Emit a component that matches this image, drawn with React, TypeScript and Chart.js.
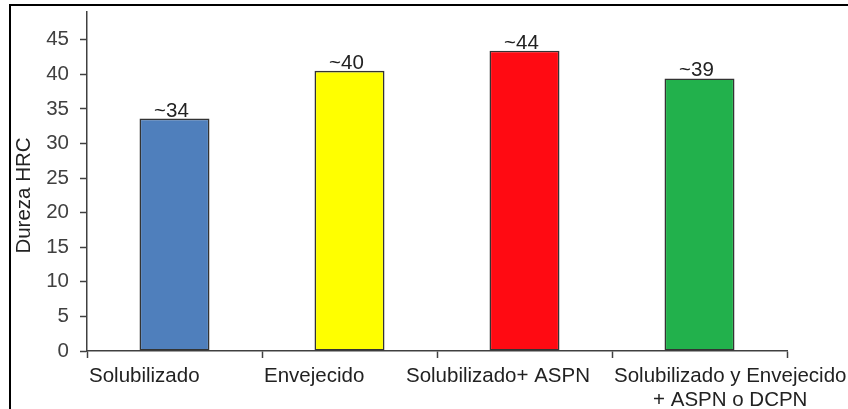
import { useEffect, useRef } from "react";
import { Chart, registerables } from "chart.js";

Chart.register(...registerables);

// Hardness (HRC) after each heat / nitriding treatment
const categories: string[][] = [
  ["Solubilizado"],
  ["Envejecido"],
  ["Solubilizado+ ASPN"],
  ["Solubilizado y Envejecido", "+ ASPN o DCPN"],
];
const hardness = [33.6, 40.5, 43.4, 39.4];
const valueLabels = ["~34", "~40", "~44", "~39"];
const barColors = ["#4F7FBC", "#FFFF00", "#FF0A12", "#22B14C"];
const yTickValues = [0, 5, 10, 15, 20, 25, 30, 35, 40, 45];
const yMax = 49;
const yTitle = "Dureza HRC";

const FONT = '"Liberation Sans", Arial, sans-serif';
const AXIS_COLOR = "#404040";
const TEXT_COLOR = "#222222";
const LABEL_GAP = 24;

const decorations = {
  id: "decorations",
  beforeDraw(chart: any) {
    const { ctx, width, height } = chart;
    ctx.save();
    ctx.fillStyle = "#ffffff";
    ctx.fillRect(0, 0, width, height);
    ctx.restore();
  },
  afterDraw(chart: any) {
    const { ctx, width, height, chartArea } = chart;
    ctx.save();

    // outer frame (left and top edges)
    ctx.strokeStyle = "#000000";
    ctx.lineWidth = 2;
    ctx.beginPath();
    ctx.moveTo(10, height);
    ctx.lineTo(10, 5);
    ctx.lineTo(width, 5);
    ctx.stroke();

    ctx.font = `20.5px ${FONT}`;
    ctx.fillStyle = TEXT_COLOR;
    ctx.textBaseline = "alphabetic";

    // value labels above the bars
    ctx.textAlign = "center";
    const meta = chart.getDatasetMeta(0);
    meta.data.forEach((bar: any, i: number) => {
      ctx.fillText(valueLabels[i], bar.x - 3, bar.y - 2);
    });

    // category labels: start at the category's left edge, pushed left
    // when they would run into the next label
    const xs = chart.scales.x;
    const step = (xs.right - xs.left) / categories.length;
    const widths = categories.map((lines) =>
      Math.max(...lines.map((l) => ctx.measureText(l).width))
    );
    const starts = categories.map((_, i) => xs.getPixelForValue(i) - step / 2 + 2);
    for (let i = starts.length - 2; i >= 0; i--) {
      const limit = starts[i + 1] - LABEL_GAP;
      if (starts[i] + widths[i] > limit) starts[i] = limit - widths[i];
    }
    categories.forEach((lines, i) => {
      lines.forEach((l, j) => {
        ctx.fillText(l, starts[i] + widths[i] / 2, chartArea.bottom + 31 + j * 24);
      });
    });

    // y axis title
    ctx.translate(24, (chartArea.top + chartArea.bottom) / 2 + 14);
    ctx.rotate(-Math.PI / 2);
    ctx.textAlign = "center";
    ctx.textBaseline = "middle";
    ctx.fillText(yTitle, 0, 0);

    ctx.restore();
  },
};

export default function App() {
  const canvasRef = useRef<HTMLCanvasElement | null>(null);

  useEffect(() => {
    document.body.style.margin = "0";
    const canvas = canvasRef.current;
    if (!canvas) return;

    const chart = new Chart(canvas, {
      type: "bar",
      data: {
        labels: categories.map((c) => c.join(" ")),
        datasets: [
          {
            data: hardness,
            backgroundColor: barColors,
            borderColor: "#333333",
            borderWidth: 1.6,
            borderSkipped: false,
            categoryPercentage: 0.4,
            barPercentage: 1,
          },
        ],
      },
      options: {
        responsive: false,
        animation: false,
        devicePixelRatio: 1,
        layout: { padding: { left: 0, top: 12, right: 61, bottom: 0 } },
        plugins: {
          legend: { display: false },
          tooltip: { enabled: false },
          title: { display: false },
        },
        scales: {
          x: {
            type: "category",
            offset: true,
            grid: {
              offset: true,
              drawOnChartArea: false,
              drawTicks: true,
              tickLength: 7,
              tickColor: (ctx: any) =>
                ctx.index === categories.length ? "rgba(0,0,0,0)" : AXIS_COLOR,
              tickWidth: 1.5,
            },
            border: { display: true, color: AXIS_COLOR, width: 1.5 },
            ticks: { display: false },
            afterFit: (scale: any) => {
              scale.height = 58;
              scale.paddingLeft = 0;
              scale.paddingRight = 0;
            },
          },
          y: {
            min: 0,
            max: yMax,
            afterBuildTicks: (scale: any) => {
              scale.ticks = yTickValues.map((v) => ({ value: v }));
            },
            grid: {
              drawOnChartArea: false,
              drawTicks: true,
              tickLength: 7,
              tickColor: AXIS_COLOR,
              tickWidth: 1.5,
            },
            border: { display: true, color: AXIS_COLOR, width: 1.5 },
            ticks: {
              color: AXIS_COLOR,
              padding: 11,
              font: { family: FONT, size: 20.5 },
            },
            afterFit: (scale: any) => {
              scale.width = 87;
              scale.paddingTop = 0;
              scale.paddingBottom = 0;
            },
          },
        },
      },
      plugins: [decorations],
    });

    return () => chart.destroy();
  }, []);

  return (
    <div style={{ width: 848, height: 409 }}>
      <canvas ref={canvasRef} width={848} height={409} style={{ display: "block" }} />
    </div>
  );
}
